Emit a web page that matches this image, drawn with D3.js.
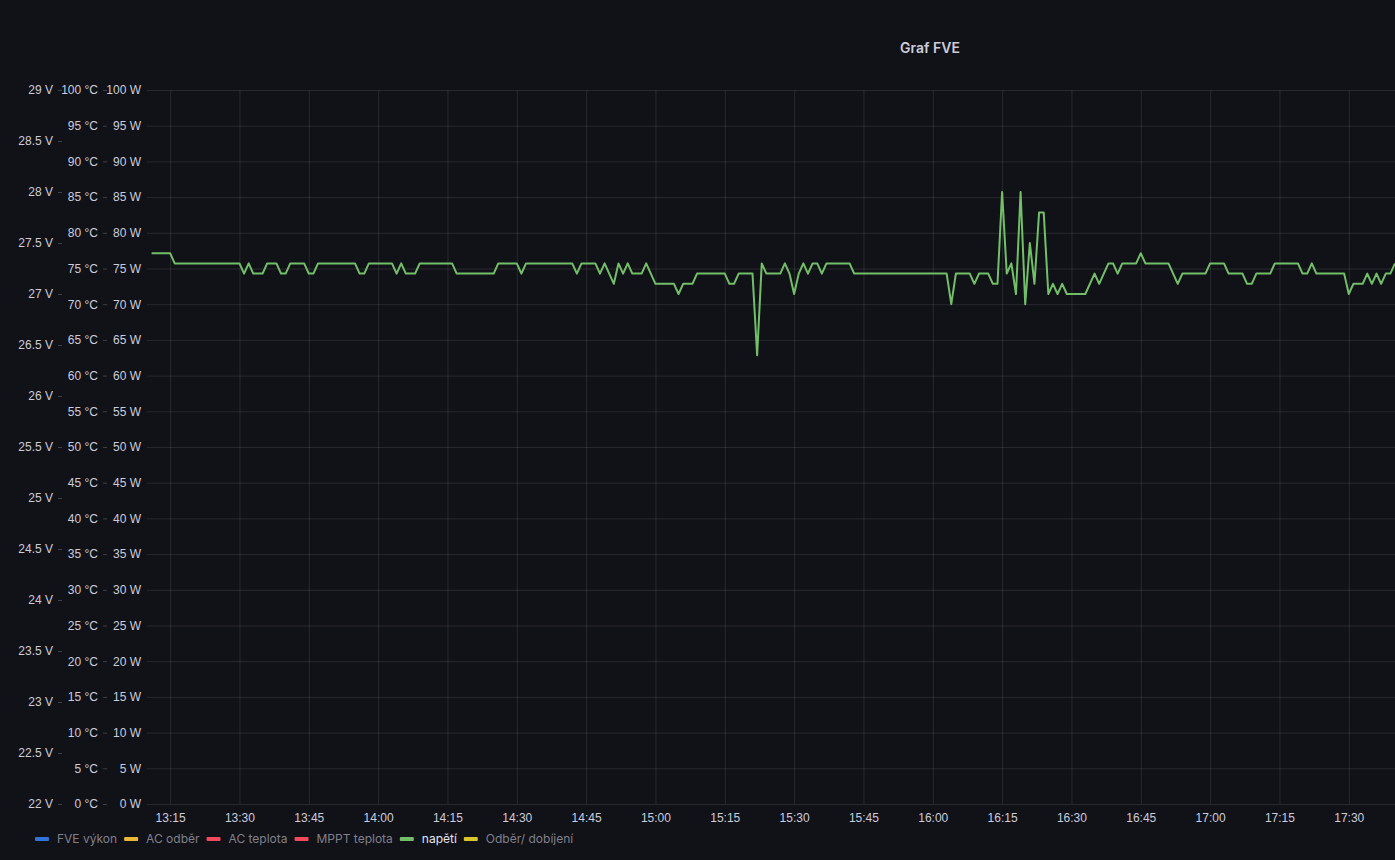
<!DOCTYPE html>
<html>
<head>
<meta charset="utf-8">
<script src="https://cdn.jsdelivr.net/npm/d3@7"></script>
<style>
  html, body { margin: 0; padding: 0; background: #111217; }
  svg { display: block; font-family: Inter, "Noto Sans", sans-serif; }
</style>
</head>
<body>
<svg id="chart" width="1395" height="860"></svg>
<script>
// ---- Data ----
const title = "Graf FVE";
const times = ["13:11","13:15","13:16","13:30","13:31","13:32","13:33","13:35","13:36","13:38","13:39","13:40","13:41","13:44","13:45","13:46","13:47","13:55","13:56","13:57","13:58","14:03","14:04","14:05","14:06","14:08","14:09","14:16","14:17","14:25","14:26","14:30","14:31","14:32","14:42","14:43","14:44","14:47","14:48","14:49","14:51","14:52","14:53","14:54","14:55","14:57","14:58","15:00","15:04","15:05","15:06","15:08","15:09","15:15","15:16","15:17","15:18","15:21","15:22","15:23","15:24","15:27","15:28","15:29","15:30","15:31","15:32","15:33","15:34","15:35","15:36","15:37","15:42","15:43","16:03","16:04","16:05","16:08","16:09","16:10","16:12","16:13","16:14","16:15","16:16","16:17","16:18","16:19","16:20","16:21","16:22","16:23","16:24","16:25","16:26","16:27","16:28","16:29","16:33","16:35","16:36","16:38","16:39","16:40","16:41","16:44","16:45","16:46","16:51","16:53","16:54","16:59","17:00","17:03","17:04","17:07","17:08","17:09","17:10","17:13","17:14","17:19","17:20","17:21","17:22","17:23","17:29","17:30","17:31","17:33","17:34","17:35","17:36","17:37","17:38","17:39","17:40"];
const voltage = [27.4,27.4,27.3,27.3,27.2,27.3,27.2,27.2,27.3,27.3,27.2,27.2,27.3,27.3,27.2,27.2,27.3,27.3,27.2,27.2,27.3,27.3,27.2,27.3,27.2,27.2,27.3,27.3,27.2,27.2,27.3,27.3,27.2,27.3,27.3,27.2,27.3,27.3,27.2,27.3,27.1,27.3,27.2,27.3,27.2,27.2,27.3,27.1,27.1,27.0,27.1,27.1,27.2,27.2,27.1,27.1,27.2,27.2,26.4,27.3,27.2,27.2,27.3,27.2,27.0,27.2,27.3,27.2,27.3,27.3,27.2,27.3,27.3,27.2,27.2,26.9,27.2,27.2,27.1,27.2,27.2,27.1,27.1,28.0,27.2,27.3,27.0,28.0,26.9,27.5,27.1,27.8,27.8,27.0,27.1,27.0,27.1,27.0,27.0,27.2,27.1,27.3,27.3,27.2,27.3,27.3,27.4,27.3,27.3,27.1,27.2,27.2,27.3,27.3,27.2,27.2,27.1,27.1,27.2,27.2,27.3,27.3,27.2,27.2,27.3,27.2,27.2,27.0,27.1,27.1,27.2,27.1,27.2,27.1,27.2,27.2,27.3];
const timeDomain = ["13:10","17:40"];
const voltTicks = [22,22.5,23,23.5,24,24.5,25,25.5,26,26.5,27,27.5,28,28.5,29];
const tempTicks = [0,5,10,15,20,25,30,35,40,45,50,55,60,65,70,75,80,85,90,95,100];
const powerTicks = [0,5,10,15,20,25,30,35,40,45,50,55,60,65,70,75,80,85,90,95,100];
const legendNames = ["FVE výkon","AC odběr","AC teplota","MPPT teplota","napětí","Odběr/ dobíjení"];
const legendColors = ["#3274D9","#EAB839","#F2495C","#F2495C","#73BF69","#D8C62C"];
const activeSeries = "napětí";

// ---- Layout ----
const W = 1395, H = 860;
const plotL = 147, plotR = 1395, plotT = 90, plotB = 804;
const textColor = "#ccccdc";
const gridColor = "rgba(204,204,220,0.12)";
const tickColor = "rgba(204,204,220,0.25)";

const parse = d3.timeParse("%Y-%m-%d %H:%M");
const toDate = s => parse("2023-06-01 " + s);
const data = times.map((t, i) => ({ t: toDate(t), v: voltage[i] }));

const svg = d3.select("#chart");
svg.append("rect").attr("width", W).attr("height", H).attr("fill", "#111217");

const x = d3.scaleTime().domain(timeDomain.map(toDate)).range([plotL, plotR]);
const yV = d3.scaleLinear().domain([22, 29]).range([plotB, plotT]);
const yC = d3.scaleLinear().domain([0, 100]).range([plotB, plotT]);
const yW = d3.scaleLinear().domain([0, 100]).range([plotB, plotT]);

// Title
svg.append("text").attr("x", 930).attr("y", 53).attr("text-anchor", "middle")
  .attr("fill", textColor).attr("font-size", 14).attr("font-weight", 600).text(title);

function styleAxis(g, gridLines) {
  g.select(".domain").remove();
  g.selectAll(".tick text").attr("fill", textColor).attr("font-size", 12);
  g.selectAll(".tick line").attr("stroke", gridLines ? gridColor : tickColor);
}

// X axis with vertical grid
const gx = svg.append("g").attr("transform", `translate(0,${plotB})`)
  .call(d3.axisBottom(x).ticks(d3.timeMinute.every(15)).tickFormat(d3.timeFormat("%H:%M"))
    .tickSize(-(plotB - plotT)).tickPadding(9));
styleAxis(gx, true);

// W axis with horizontal grid
const gW = svg.append("g").attr("transform", `translate(${plotL},0)`)
  .call(d3.axisLeft(yW).tickValues(powerTicks).tickFormat(d => d + " W")
    .tickSize(-(plotR - plotL)).tickPadding(6));
styleAxis(gW, true);

// °C axis
const gC = svg.append("g").attr("transform", `translate(107,0)`)
  .call(d3.axisLeft(yC).tickValues(tempTicks).tickFormat(d => d + " °C")
    .tickSize(4).tickPadding(5));
styleAxis(gC, false);

// V axis
const gV = svg.append("g").attr("transform", `translate(62,0)`)
  .call(d3.axisLeft(yV).tickValues(voltTicks).tickFormat(d => d + " V")
    .tickSize(4).tickPadding(5));
styleAxis(gV, false);

// Clip
svg.append("clipPath").attr("id", "clip").append("rect")
  .attr("x", plotL).attr("y", plotT - 5).attr("width", plotR - plotL).attr("height", plotB - plotT + 10);

const line = d3.line().x(d => x(d.t)).y(d => yV(d.v));
svg.append("path").datum(data).attr("clip-path", "url(#clip)")
  .attr("fill", "none").attr("stroke", "#73BF69").attr("stroke-width", 2)
  .attr("stroke-linejoin", "round").attr("d", line);

// Legend
const lg = svg.append("g").attr("transform", "translate(35,839)");
let lx = 0;
legendNames.forEach((name, i) => {
  const g = lg.append("g").attr("transform", `translate(${lx},0)`);
  g.append("rect").attr("x", 0).attr("y", -2).attr("width", 14).attr("height", 4)
    .attr("rx", 1).attr("fill", legendColors[i]);
  const t = g.append("text").attr("x", 22).attr("y", 4).attr("font-size", 12)
    .attr("fill", name === activeSeries ? "#e6e6ee" : "rgba(204,204,220,0.6)").text(name);
  const w = t.node().getComputedTextLength();
  lx += 22 + w + 7;
});
</script>
</body>
</html>
